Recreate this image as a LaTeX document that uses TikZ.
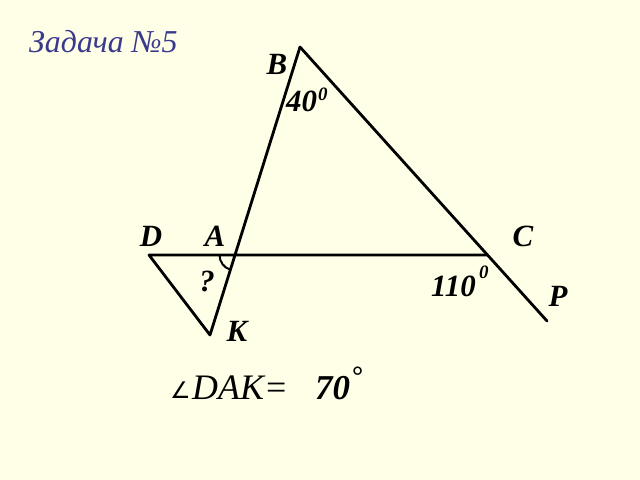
\documentclass[tikz,border=0pt]{standalone}
\usepackage{fontspec}
\setmainfont{Liberation Serif}
\newfontfamily\symfont{DejaVu Sans}
\begin{document}
\begin{tikzpicture}[x=1bp,y=-1bp,
  seg/.style={line width=2.8bp,line cap=round,line join=round},
  lbl/.style={font=\fontsize{31}{31}\selectfont\bfseries\itshape,inner sep=0pt},
  deg/.style={font=\fontsize{19}{19}\selectfont\bfseries\itshape,inner sep=0pt}]
\definecolor{bg}{RGB}{255,255,232}
\definecolor{ttl}{RGB}{58,58,140}
\fill[bg] (0,0) rectangle (640,480);
\useasboundingbox (0,0) rectangle (640,480);
\coordinate (B) at (300,47);
\coordinate (K) at (210,335);
\coordinate (D) at (149,255);
\coordinate (C) at (487,255);
\coordinate (P) at (547,321);
\coordinate (A) at (235,255);
\draw[seg] (B) -- (K) -- (D) -- (C);
\draw[seg] (B) -- (P);
\draw[line width=2bp] (219.5,255) arc[start angle=180,end angle=107,radius=15.5];
\node[font=\fontsize{32}{32}\selectfont\itshape,text=ttl,anchor=west,inner sep=0pt] (title) at (29,42) {Задача №5};
\node[lbl] (lB) at (277,64) {B};
\node[lbl] (lD) at (151,236) {D};
\node[lbl] (lA) at (215,236) {A};
\node[lbl] (lC) at (523,236) {C};
\node[lbl] (lP) at (558,296) {P};
\node[lbl] (lK) at (237,331) {K};
\node[lbl] (lq) at (207,281) {?};
\node[lbl,anchor=west] (l40) at (286,101) {40};
\node[deg,anchor=west] (d40) at (318,94) {0};
\node[lbl,anchor=west] (l110) at (431,286) {110};
\node[deg,anchor=west] (d110) at (479,272) {0};
\node[font=\symfont\fontsize{23}{23}\selectfont,anchor=west,inner sep=0pt] (angsym) at (170,390) {∠};
\node[font=\fontsize{36}{36}\selectfont\itshape,anchor=west,inner sep=0pt] (ang) at (192,388) {DAK=};
\node[font=\fontsize{35}{35}\selectfont\bfseries\itshape,anchor=west,inner sep=0pt] (v) at (315,388) {70};
\node[font=\fontsize{28}{28}\selectfont\bfseries,anchor=west,inner sep=0pt] (vd) at (352,376) {°};
\end{tikzpicture}
\end{document}
